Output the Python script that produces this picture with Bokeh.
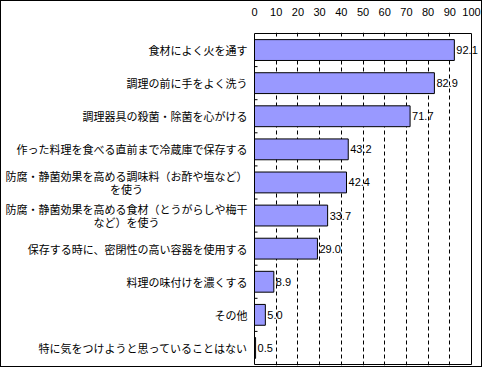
from bokeh.plotting import figure
from bokeh.models import Range1d, FixedTicker, ColumnDataSource, BoxAnnotation
from bokeh.core.properties import value
from bokeh.embed import file_html
from bokeh.resources import INLINE

categories = [
    "食材によく火を通す",
    "調理の前に手をよく洗う",
    "調理器具の殺菌・除菌を心がける",
    "作った料理を食べる直前まで冷蔵庫で保存する",
    "防腐・静菌効果を高める調味料（お酢や塩など）\nを使う",
    "防腐・静菌効果を高める食材（とうがらしや梅干\nなど）を使う",
    "保存する時に、密閉性の高い容器を使用する",
    "料理の味付けを濃くする",
    "その他",
    "特に気をつけようと思っていることはない",
]
values = [92.1, 82.9, 71.7, 43.2, 42.4, 33.7, 29.0, 8.9, 5.0, 0.5]
value_labels = ["92.1", "82.9", "71.7", "43.2", "42.4", "33.7", "29.0", "8.9", "5.0", "0.5"]
x_ticks = [0, 10, 20, 30, 40, 50, 60, 70, 80, 90, 100]

FS = 11
W, H = 482, 367
TOP, BOT = 31, 3
L0, L100 = 253, W - 12
s = (L100 - L0) / 100.0
x_start, x_end = -L0 / s, 100 + (W - L100) / s

n = len(categories)
pos = [i + 0.5 for i in range(n)]
bounds = [i for i in range(1, n)]
src = ColumnDataSource(dict(pos=pos, val=values, lab=value_labels))

l1_y, l1_t, l2_y, l2_t, l2_off = [], [], [], [], []
for pv, c in zip(pos, categories):
    parts = c.split("\n")
    if len(parts) == 1:
        l1_y.append(pv); l1_t.append(parts[0])
    else:
        l1_y.append(pv - 0.19); l1_t.append(parts[0])
        l2_y.append(pv + 0.19); l2_t.append(parts[1])
        l2_off.append(-7 - FS * len(parts[0]) / 2)

fh = H - TOP - BOT
pad = 1.0 / (fh - 2) * n
p = figure(width=W, height=H, x_range=Range1d(x_start, x_end), y_range=Range1d(n + pad, -pad),
           x_axis_location="above", y_axis_location=None,
           output_backend="svg", toolbar_location=None,
           min_border_left=0, min_border_right=0, min_border_top=TOP, min_border_bottom=BOT)
p.styles = {"border": "1px solid black"}
p.background_fill_color = "white"
p.border_fill_color = "white"
p.outline_line_color = None

p.hbar(y="pos", left=0, right="val", height=0.63, source=src,
       fill_color="#9999FF", line_color="black", line_width=1)
p.add_layout(BoxAnnotation(left=0, right=100, top=0, bottom=n, fill_color=None,
                           line_color="black", line_width=1, line_alpha=1))
p.ray(x=0, y=bounds, length=3, length_units="screen", angle=0, line_color="black", line_width=1)

p.text(x=0, y=l1_y, text=l1_t, x_offset=-7, text_align="right", text_baseline="middle",
       text_font=value("Noto Sans CJK JP"), text_font_size=f"{FS}px", text_color="black")
p.text(x=0, y=l2_y, text=l2_t, x_offset=l2_off, text_align="center", text_baseline="middle",
       text_font=value("Noto Sans CJK JP"), text_font_size=f"{FS}px", text_color="black")
p.text(x="val", y="pos", text="lab", source=src, x_offset=2,
       text_baseline="middle", text_font_size="11px",
       text_font=value("Liberation Sans"), text_color="black")

xa = p.xaxis[0]
xa.ticker = FixedTicker(ticks=x_ticks)
xa.major_tick_line_color = None
xa.minor_tick_line_color = None
xa.axis_line_color = None
xa.major_label_standoff = 11
xa.major_label_text_font = "Liberation Sans"
xa.major_label_text_font_size = "11px"
xa.major_label_text_color = "black"

p.xgrid.ticker = FixedTicker(ticks=x_ticks[1:-1])
p.xgrid.grid_line_color = "black"
p.xgrid.grid_line_dash = "4 3"
p.xgrid.grid_line_width = 1
p.ygrid.grid_line_color = None

open("out.html", "w").write(file_html(p, INLINE))
